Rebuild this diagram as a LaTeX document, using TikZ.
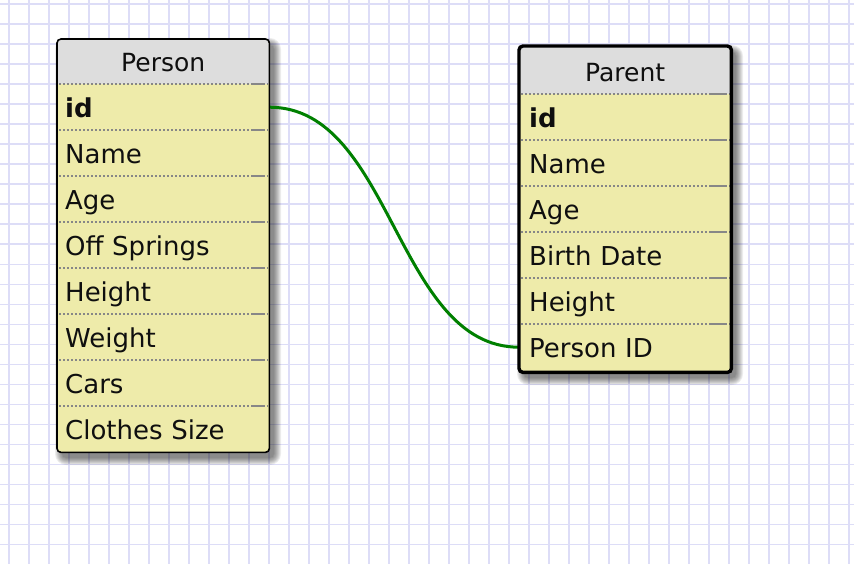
\documentclass[tikz,border=0pt]{standalone}
\usepackage{fontspec}
\setmainfont{DejaVu Sans}
\definecolor{gridc}{RGB}{221,221,247}
\definecolor{rowc}{RGB}{238,235,170}
\definecolor{headc}{RGB}{221,221,221}
\definecolor{sepc}{RGB}{135,135,135}
\definecolor{linkc}{RGB}{0,128,0}
\definecolor{txtc}{RGB}{15,15,15}
\begin{document}
\begin{tikzpicture}[x=1pt,y=-1pt,
  gridline/.style={draw=gridc, line width=1.8pt},
  shadowlayer/.style={fill=black, fill opacity=0.07},
  tablebox/.style={rounded corners=4pt, fill=rowc, minimum width=212pt, inner sep=0pt, anchor=north west},
  headcell/.style={minimum width=212pt, minimum height=46pt, inner sep=0pt, anchor=north west,
    text height=22pt, text depth=1pt, font=\fontsize{25}{30}\selectfont, text=txtc},
  rowcell/.style={minimum width=212pt, minimum height=46pt, inner xsep=8pt, inner ysep=0pt, anchor=north west,
    text width=196pt, align=left, text height=22pt, text depth=1pt, font=\fontsize{26}{30}\selectfont, text=txtc},
  prowcell/.style={rowcell, inner xsep=10pt, text width=192pt},
  keyfont/.style={font=\fontsize{26}{30}\selectfont\bfseries},
  sepdots/.style={draw=sepc, line width=1.3pt, dash pattern=on 2pt off 2pt},
  sepsolid/.style={draw=sepc, line width=1.3pt},
  thinborder/.style={draw=black, line width=1.6pt, rounded corners=4pt},
  thickborder/.style={draw=black, line width=3.4pt, rounded corners=4pt},
  link/.style={draw=linkc, line width=3pt}
]
\useasboundingbox (0,0) rectangle (854,564);
\fill[white] (0,0) rectangle (854,564);
% grid, 20 px cells
\foreach \i in {0,...,42} \draw[gridline] ({9+20*\i},0) -- ({9+20*\i},564);
\foreach \j in {0,...,28} \draw[gridline] (0,{4.4+20*\j}) -- (854,{4.4+20*\j});

% soft shadows
\foreach \k in {0,...,7} {
  \fill[shadowlayer, rounded corners={4+\k}] ({57+5-\k},{39+6-\k}) rectangle ({269+5+\k},{452+6+\k});
  \fill[shadowlayer, rounded corners={4+\k}] ({519+5-\k},{46+6-\k}) rectangle ({731+5+\k},{372+6+\k});
}

% ---------------- Person table ----------------
\node[tablebox, minimum height=413pt] (person) at (57,39) {};
\begin{scope}
  \clip[rounded corners=4pt] (57,39) rectangle (269,452);
  \fill[headc] (57,39) rectangle (269,84);
\end{scope}
\node[headcell] (person-head) at (57,38) {Person};
\node[rowcell, keyfont] (person-id) at (57,84) {id};
\node[rowcell] (person-name) at (57,130) {Name};
\node[rowcell] (person-age) at (57,176) {Age};
\node[rowcell] (person-off) at (57,222) {Off Springs};
\node[rowcell] (person-height) at (57,268) {Height};
\node[rowcell] (person-weight) at (57,314) {Weight};
\node[rowcell] (person-cars) at (57,360) {Cars};
\node[rowcell] (person-clothes) at (57,406) {Clothes Size};
\foreach \y in {84,130,176,222,268,314,360,406} {
  \draw[sepdots] (59,\y) -- (268,\y);
  \draw[sepsolid] (251,\y) -- (264,\y);
}

% ---------------- Parent table ----------------
\node[tablebox, minimum height=326pt] (parent) at (519,46) {};
\begin{scope}
  \clip[rounded corners=4pt] (519,46) rectangle (731,372);
  \fill[headc] (519,46) rectangle (731,94);
\end{scope}
\node[headcell] (parent-head) at (519,48) {Parent};
\node[prowcell, keyfont] (parent-id) at (519,94) {id};
\node[prowcell] (parent-name) at (519,140) {Name};
\node[prowcell] (parent-age) at (519,186) {Age};
\node[prowcell] (parent-birth) at (519,232) {Birth Date};
\node[prowcell] (parent-height) at (519,278) {Height};
\node[prowcell] (parent-pid) at (519,324) {Person ID};
\foreach \y in {94,140,186,232,278,324} {
  \draw[sepdots] (521,\y) -- (730,\y);
  \draw[sepsolid] (711,\y) -- (727,\y);
}

% connector
\draw[link] (person-id.east) .. controls +(123,0) and +(-123,0) .. (parent-pid.west);

% borders
\draw[thinborder] (person.north west) rectangle (person.south east);
\draw[thickborder] (parent.north west) rectangle (parent.south east);
\end{tikzpicture}
\end{document}
